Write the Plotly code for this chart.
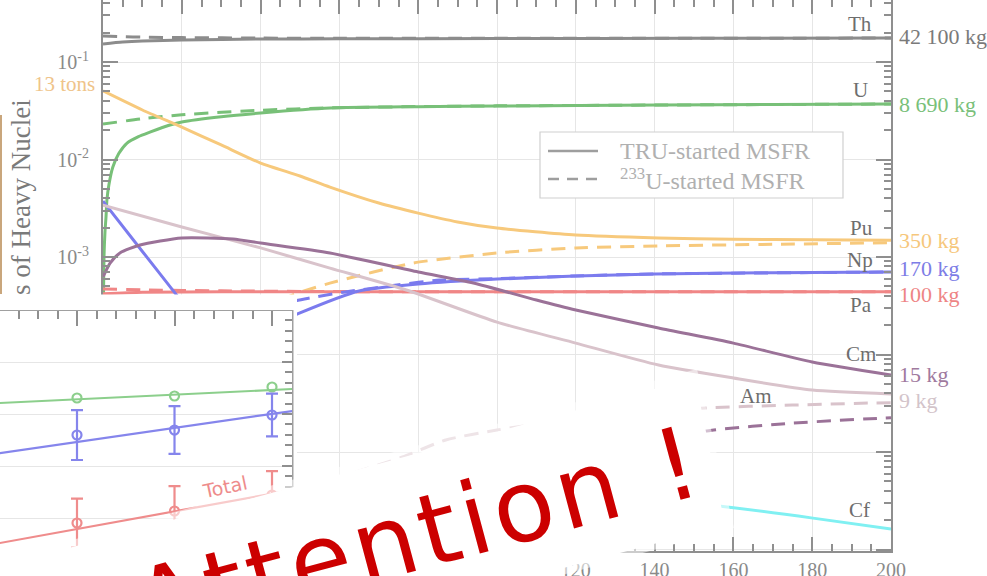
import plotly.graph_objects as go

W, H = 987, 576

# ---------------- main chart: heavy-nuclei inventory vs time ----------------
t_th = [0, 5, 10, 20, 40, 60, 100, 150, 200]
th_tru = [0.153, 0.160, 0.164, 0.168, 0.172, 0.173, 0.174, 0.175, 0.176]
th_u233 = [0.185, 0.182, 0.180, 0.178, 0.176, 0.175, 0.175, 0.175, 0.176]

t_u_tru = [0, 0.25, 0.5, 0.76, 1.0, 1.5, 2.5, 4, 6.1, 9, 11.9, 17, 20, 30, 40, 57.6, 80, 100, 141, 170, 200]
u_tru = [1.5e-4, 1.0e-3, 1.8e-3, 2.57e-3, 3.85e-3, 5.5e-3, 8.37e-3, 0.0115, 0.01476, 0.0172, 0.0191,
         0.0226, 0.0243, 0.0275, 0.030, 0.0337, 0.0348, 0.0354, 0.0362, 0.0367, 0.0371]
t_u_233 = [0, 10, 20, 40, 57.6, 80, 100, 141, 200]
u_u233 = [0.0231, 0.0262, 0.0288, 0.032, 0.0339, 0.0349, 0.0355, 0.0362, 0.0371]

t_pu_tru = [0, 10, 20, 30, 40, 50, 57.6, 70, 80, 90, 100, 120, 141, 160, 180, 200]
pu_tru = [0.0505, 0.0322, 0.0215, 0.0141, 0.0092, 0.00678, 0.00522, 0.00358, 0.00282, 0.00229,
          0.00198, 0.00168, 0.00157, 0.00152, 0.0015, 0.00149]
t_pu_233 = [1, 10, 20, 30, 40, 49.5, 57.6, 78.7, 100, 120, 141, 170, 200]
pu_u233 = [2e-6, 3e-5, 1e-4, 2e-4, 3e-4, 4.27e-4, 5.4e-4, 8.67e-4, 1.1e-3, 1.24e-3, 1.3e-3, 1.35e-3, 1.4e-3]

t_np_tru = [0, 10, 18.3, 22, 28, 35, 42, 50, 65, 80, 100, 120, 140, 170, 200]
np_tru = [3.75e-3, 1.14e-3, 4.27e-4, 2.75e-4, 1.66e-4, 1.5e-4, 1.9e-4, 2.67e-4, 4.48e-4, 5.28e-4,
          5.94e-4, 6.38e-4, 6.69e-4, 6.9e-4, 7.02e-4]
t_np_233 = [0, 10, 20, 30, 40, 48, 52.5, 61.4, 74.6, 85.5, 100, 120, 140, 200]
np_u233 = [1e-5, 4e-5, 1e-4, 1.8e-4, 2.8e-4, 3.5e-4, 3.8e-4, 4.38e-4, 5.16e-4, 5.81e-4, 6.0e-4,
           6.4e-4, 6.7e-4, 7.02e-4]

t_pa = [0, 10, 30, 60, 100, 150, 200]
pa_tru = [4.2e-4, 4.35e-4, 4.4e-4, 4.4e-4, 4.4e-4, 4.4e-4, 4.4e-4]
pa_u233 = [4.7e-4, 4.6e-4, 4.5e-4, 4.42e-4, 4.4e-4, 4.4e-4, 4.4e-4]

t_cm_tru = [0, 1.8, 4.3, 9.4, 20, 33, 40, 57.6, 80, 94, 110, 120, 141, 160, 180, 200]
cm_tru = [6.24e-4, 8.67e-4, 1.10e-3, 1.33e-3, 1.57e-3, 1.53e-3, 1.39e-3, 1.10e-3, 7.02e-4, 5.41e-4,
          3.62e-4, 2.86e-4, 1.87e-4, 1.31e-4, 8.38e-5, 6.17e-5]
t_cm_233 = [40, 60, 80, 100, 120, 155, 175, 198, 200]
cm_u233 = [1e-6, 2.5e-6, 4.5e-6, 7e-6, 1e-5, 1.68e-5, 1.98e-5, 2.23e-5, 2.25e-5]

t_am_tru = [0, 20, 40, 57.6, 77, 100, 120, 141, 160, 180, 200]
am_tru = [3.41e-3, 2.03e-3, 1.24e-3, 7.7e-4, 4.59e-4, 2.15e-4, 1.31e-4, 7.8e-5, 5.74e-5, 4.32e-5, 3.94e-5]
t_am_233 = [20, 40, 60, 76, 87, 100, 120, 153, 175, 195, 200]
am_u233 = [1.5e-6, 3e-6, 5.5e-6, 8.9e-6, 1.33e-5, 1.68e-5, 2.2e-5, 2.83e-5, 3.03e-5, 3.18e-5, 3.2e-5]

t_cf = [40, 60, 100, 140, 158.4, 180.2, 200]
cf_tru = [5e-7, 1.2e-6, 3.2e-6, 3.2e-6, 2.73e-6, 2.1e-6, 1.62e-6]

decades = [1e-6, 1e-5, 1e-4, 1e-3, 1e-2, 1e-1]
decade_text = ["10<sup>-6</sup>", "10<sup>-5</sup>", "10<sup>-4</sup>",
               "10<sup>-3</sup>", "10<sup>-2</sup>", "10<sup>-1</sup>"]
x_ticks = [0, 20, 40, 60, 80, 100, 120, 140, 160, 180, 200]

# end-of-run inventories written at the right edge
end_labels = ["42 100 kg", "8 690 kg", "350 kg", "170 kg", "100 kg", "15 kg", "9 kg"]
elements = ["Th", "U", "Pu", "Np", "Pa", "Cm", "Am", "Cf"]
legend_names = ["TRU-started MSFR", "<sup>233</sup>U-started MSFR"]

# ---------------- inset: measured points with a fitted trend ----------------
inset_x = [1, 2, 3]
green_pts = [3.308, 3.346, 3.519]
blue_pts = [2.596, 2.692, 2.981]
blue_err = [0.48, 0.46, 0.41]
red_pts = [0.904, 1.135, 1.442]
red_err = [0.47, 0.48, 0.46]
fit_x = [0, 3.5]
green_fit = [3.193, 3.507]
blue_fit = [2.193, 3.137]
red_fit = [0.448, 1.638]

# colours
C_TH, C_U, C_PU, C_NP = "#8c8c8c", "#78c078", "#f7c97c", "#7b7bee"
C_PA, C_CM, C_AM, C_CF = "#f08686", "#9b7298", "#d9c3cb", "#80f0f2"
SERIF = "Liberation Serif, Times New Roman, serif"
HAND = "Comic Sans MS, DejaVu Sans, sans-serif"


def fx(px):
    return px / W


def fy(py):
    return 1 - py / H


fig = go.Figure()

DASH = "14px,9px"
main_series = [
    (t_th, th_tru, C_TH, "solid"), (t_th, th_u233, C_TH, DASH),
    (t_u_tru, u_tru, C_U, "solid"), (t_u_233, u_u233, C_U, DASH),
    (t_pu_233, pu_u233, C_PU, DASH), (t_pu_tru, pu_tru, C_PU, "solid"),
    (t_pa, pa_u233, C_PA, DASH), (t_pa, pa_tru, C_PA, "solid"),
    (t_np_233, np_u233, C_NP, DASH), (t_np_tru, np_tru, C_NP, "solid"),
    (t_am_233, am_u233, C_AM, DASH), (t_am_tru, am_tru, C_AM, "solid"),
    (t_cm_233, cm_u233, C_CM, DASH), (t_cm_tru, cm_tru, C_CM, "solid"),
    (t_cf, cf_tru, C_CF, "solid"),
]
for tx, ty, col, dash in main_series:
    fig.add_trace(go.Scatter(x=tx, y=ty, mode="lines", line=dict(color=col, width=3, dash=dash,
                                                                shape="spline", smoothing=0.6),
                             showlegend=False, hoverinfo="skip", xaxis="x", yaxis="y"))

# inset traces
for fy_, col in [(green_fit, "#8ccf8c"), (blue_fit, "#8585ec"), (red_fit, "#ef8c8c")]:
    fig.add_trace(go.Scatter(x=fit_x, y=fy_, mode="lines", line=dict(color=col, width=2.2),
                             showlegend=False, hoverinfo="skip", xaxis="x2", yaxis="y2"))
fig.add_trace(go.Scatter(x=inset_x, y=green_pts, mode="markers",
                         marker=dict(symbol="circle-open", size=9, color="#8ccf8c", line=dict(width=2.2)),
                         showlegend=False, hoverinfo="skip", xaxis="x2", yaxis="y2"))
fig.add_trace(go.Scatter(x=inset_x, y=blue_pts, mode="markers",
                         marker=dict(symbol="circle-open", size=9, color="#8585ec", line=dict(width=2.2)),
                         error_y=dict(type="data", array=blue_err, color="#8585ec", thickness=2.2, width=6),
                         showlegend=False, hoverinfo="skip", xaxis="x2", yaxis="y2"))
fig.add_trace(go.Scatter(x=inset_x, y=red_pts, mode="markers",
                         marker=dict(symbol="circle-open", size=9, color="#ef8c8c", line=dict(width=2.2)),
                         error_y=dict(type="data", array=red_err, color="#ef8c8c", thickness=2.2, width=6),
                         showlegend=False, hoverinfo="skip", xaxis="x2", yaxis="y2"))

AX = "#8f8f8f"
GRID = "#e6e6e6"
decade_minor = [m * d for d in [1e-7] + decades for m in range(2, 10)]

fig.update_layout(
    width=W, height=H, margin=dict(l=0, r=0, t=0, b=0),
    paper_bgcolor="white", plot_bgcolor="white", showlegend=False,
    xaxis=dict(domain=[fx(103), fx(891)], range=[0, 200], tickvals=x_ticks,
               ticks="inside", ticklen=14, tickwidth=1.5, tickcolor=AX,
               minor=dict(dtick=5, ticks="inside", ticklen=7, tickcolor=AX, tickwidth=1.5, showgrid=False),
               showline=True, linecolor=AX, linewidth=2, mirror="ticks",
               showgrid=True, gridcolor=GRID, gridwidth=1, zeroline=False,
               tickfont=dict(family=SERIF, size=20, color="#8a8a8a"), ticklabelstandoff=0,
               automargin=False),
    yaxis=dict(domain=[fy(551), 1], type="log", range=[-6.015, -0.364],
               tickvals=decades, ticktext=decade_text,
               ticks="inside", ticklen=15, tickwidth=1.5, tickcolor=AX,
               minor=dict(tickvals=decade_minor, ticks="inside", ticklen=7, tickcolor=AX,
                          tickwidth=1.5, showgrid=False),
               showline=True, linecolor=AX, linewidth=2, mirror="ticks",
               showgrid=True, gridcolor=GRID, gridwidth=1, zeroline=False,
               tickfont=dict(family=SERIF, size=20, color="#8a8a8a"), ticklabelstandoff=8,
               automargin=False),
    xaxis2=dict(domain=[0, fx(292)], range=[0.2103, 3.205], side="top", anchor="free",
                position=fy(310), ticks="inside", ticklen=15, tickwidth=1.5, tickcolor=AX,
                dtick=1, tick0=0, showticklabels=False,
                minor=dict(dtick=0.2, ticks="inside", ticklen=8, tickcolor=AX, tickwidth=1.5),
                showline=True, linecolor="#a0a0a0", linewidth=2, showgrid=False, zeroline=False,
                automargin=False),
    yaxis2=dict(domain=[0, fy(310)], range=[-0.115, 5], side="right", anchor="x2",
                ticks="inside", ticklen=10, tickwidth=1.5, tickcolor=AX, dtick=1, tick0=0,
                showticklabels=False,
                minor=dict(dtick=0.2, ticks="inside", ticklen=7, tickcolor=AX, tickwidth=1.5),
                showline=True, linecolor="#a0a0a0", linewidth=2,
                showgrid=True, gridcolor=GRID, gridwidth=1.2, zeroline=False, automargin=False),
)

# ---------------- overlay: legend box, white patch around the inset, paper note ----------------
shapes = []
# legend frame and its two line samples
shapes.append(dict(type="rect", xref="paper", yref="paper", x0=fx(540), x1=fx(843), y0=fy(198), y1=fy(132),
                   fillcolor="white", line=dict(color="#d0d0d0", width=1.2), layer="above"))
shapes.append(dict(type="line", xref="paper", yref="paper", x0=fx(548), x1=fx(598), y0=fy(151), y1=fy(151),
                   line=dict(color="#9e9e9e", width=2.5), layer="above"))
shapes.append(dict(type="line", xref="paper", yref="paper", x0=fx(548), x1=fx(598), y0=fy(179), y1=fy(179),
                   line=dict(color="#9e9e9e", width=2.5, dash="11px,8px"), layer="above"))
# white border of the inset above and right of its frame
shapes.append(dict(type="rect", xref="paper", yref="paper", x0=0, x1=fx(297), y0=fy(310), y1=fy(294.5),
                   fillcolor="white", line=dict(width=0), layer="above"))
shapes.append(dict(type="rect", xref="paper", yref="paper", x0=fx(293.5), x1=fx(297), y0=0, y1=fy(310),
                   fillcolor="white", line=dict(width=0), layer="above"))
# thin tan edge at the far left
shapes.append(dict(type="line", xref="paper", yref="paper", x0=fx(1), x1=fx(1), y0=fy(115), y1=fy(294),
                   line=dict(color="#c9a67c", width=2), layer="above"))


def poly(points):
    return "M " + " L ".join(f"{fx(a):.5f},{fy(b):.5f}" for a, b in points) + " Z"


halo = [(-30, 568), (697, 369), (734, 528), (-30, 737)]
sheet = [(-30, 575), (695, 378), (725, 525), (-30, 726)]
shapes.append(dict(type="path", xref="paper", yref="paper", path=poly(halo),
                   fillcolor="rgba(255,255,255,0.55)", line=dict(width=0), layer="above"))
shapes.append(dict(type="path", xref="paper", yref="paper", path=poly(sheet),
                   fillcolor="white", line=dict(width=0), layer="above"))
fig.update_layout(shapes=shapes)

# ---------------- text ----------------
ann = []


def label(x, y, text, size, color, family=SERIF, xanchor="center", angle=0):
    ann.append(dict(x=fx(x), y=fy(y), text=text, showarrow=False, xref="paper", yref="paper",
                    xanchor=xanchor, yanchor="middle", textangle=angle,
                    font=dict(family=family, size=size, color=color)))


el_pos = {"Th": (860, 24), "U": (860, 90), "Pu": (861, 228), "Np": (860, 260), "Pa": (861, 305),
          "Cm": (861, 354), "Am": (756, 396), "Cf": (859, 510)}
for el in elements:
    label(*el_pos[el], el, 21, "#6e6e6e")

end_pos = [36, 104, 240, 268, 294, 374, 400]
end_cols = ["#7a7a7a", "#79c079", "#f6c77c", "#7d7de6", "#ee8585", "#a07a9e", "#d3c4ca"]
for lab, yy, col in zip(end_labels, end_pos, end_cols):
    label(897, yy, lab, 22, col, xanchor="left")

for name, yy in zip(legend_names, [151, 179]):
    label(618, yy, name, 24, "#b0b0b0", xanchor="left")

label(97, 84, "13 tons", 21, "#efc48a", xanchor="right")
label(21, 197, "s of Heavy Nuclei", 27, "#7a7a7a", angle=-90)
label(224, 487, "Total", 19, "#ee8c8c", family=HAND, angle=-12)
label(418, 534, '<span style="letter-spacing:4.5px">Attention !</span>', 100, "#cc0000",
      family=HAND, angle=-15)
fig.update_layout(annotations=ann)

fig.write_html("out.html")
